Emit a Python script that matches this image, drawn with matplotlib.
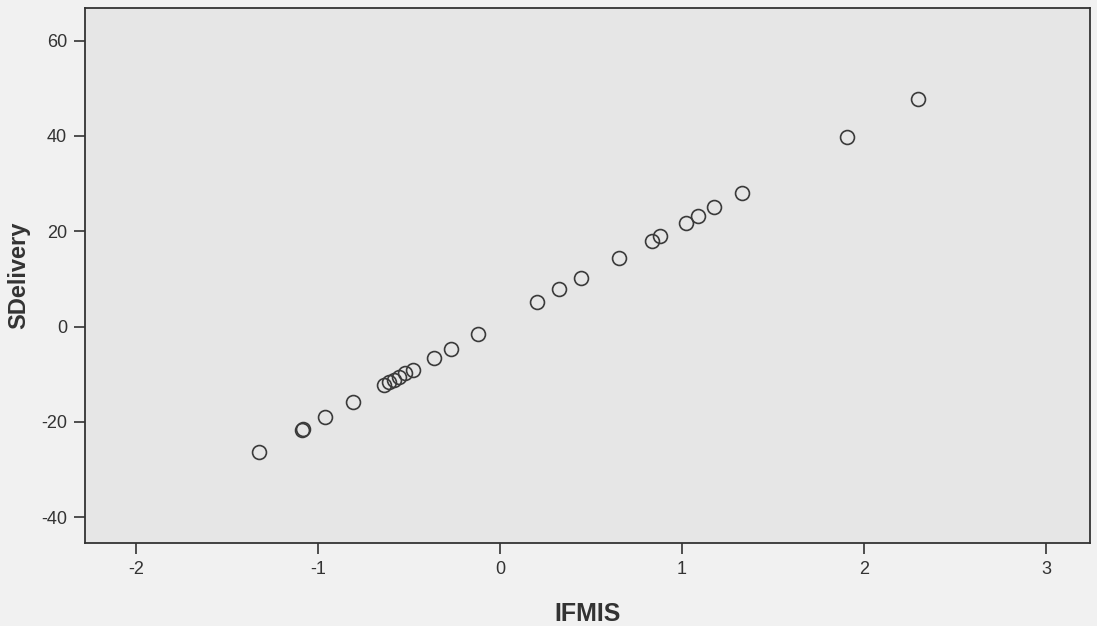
import matplotlib
matplotlib.use("Agg")
import matplotlib.pyplot as plt

ifmis = [-1.323, -1.090, -1.080, -0.962, -0.809, -0.637, -0.610, -0.584, -0.557,
         -0.520, -0.480, -0.361, -0.271, -0.119, 0.202, 0.326, 0.443, 0.652,
         0.834, 0.877, 1.024, 1.088, 1.176, 1.328, 1.907, 2.297]
sdelivery = [-26.3, -21.7, -21.5, -19.0, -15.9, -12.2, -11.6, -11.2, -10.6,
             -9.7, -9.1, -6.5, -4.7, -1.6, 5.1, 7.8, 10.2, 14.4,
             18.0, 19.0, 21.8, 23.1, 25.1, 28.0, 39.7, 47.7]
xticks = [-2, -1, 0, 1, 2, 3]
yticks = [-40, -20, 0, 20, 40, 60]

plt.rcParams['font.family'] = ['Liberation Sans', 'DejaVu Sans']
plt.rcParams['axes.unicode_minus'] = False

fig = plt.figure(figsize=(10.97, 6.26), dpi=100, facecolor='#f1f1f1')
ax = fig.add_axes([0.0775, 0.1325, 0.916, 0.8545])
ax.set_facecolor('#e6e6e6')

ax.plot(ifmis, sdelivery, linestyle='none', marker='o', markersize=10,
        markerfacecolor='none', markeredgecolor='#3a3a3a', markeredgewidth=1.2)

ax.set_xlim(-2.28, 3.24)
ax.set_ylim(-45.4, 66.8)
ax.set_xticks(xticks)
ax.set_yticks(yticks)
ax.tick_params(direction='out', length=8, width=1.2, colors='#333333',
               labelsize=13, labelcolor='#333333', pad=5)
for s in ax.spines.values():
    s.set_linewidth(1.3)
    s.set_color('#333333')

ax.set_xlabel('IFMIS', fontsize=18, fontweight='bold', color='#333333', labelpad=17)
ax.set_ylabel('SDelivery', fontsize=17, fontweight='bold', color='#333333', labelpad=8)

fig.savefig('out.png', dpi=100, facecolor=fig.get_facecolor())
